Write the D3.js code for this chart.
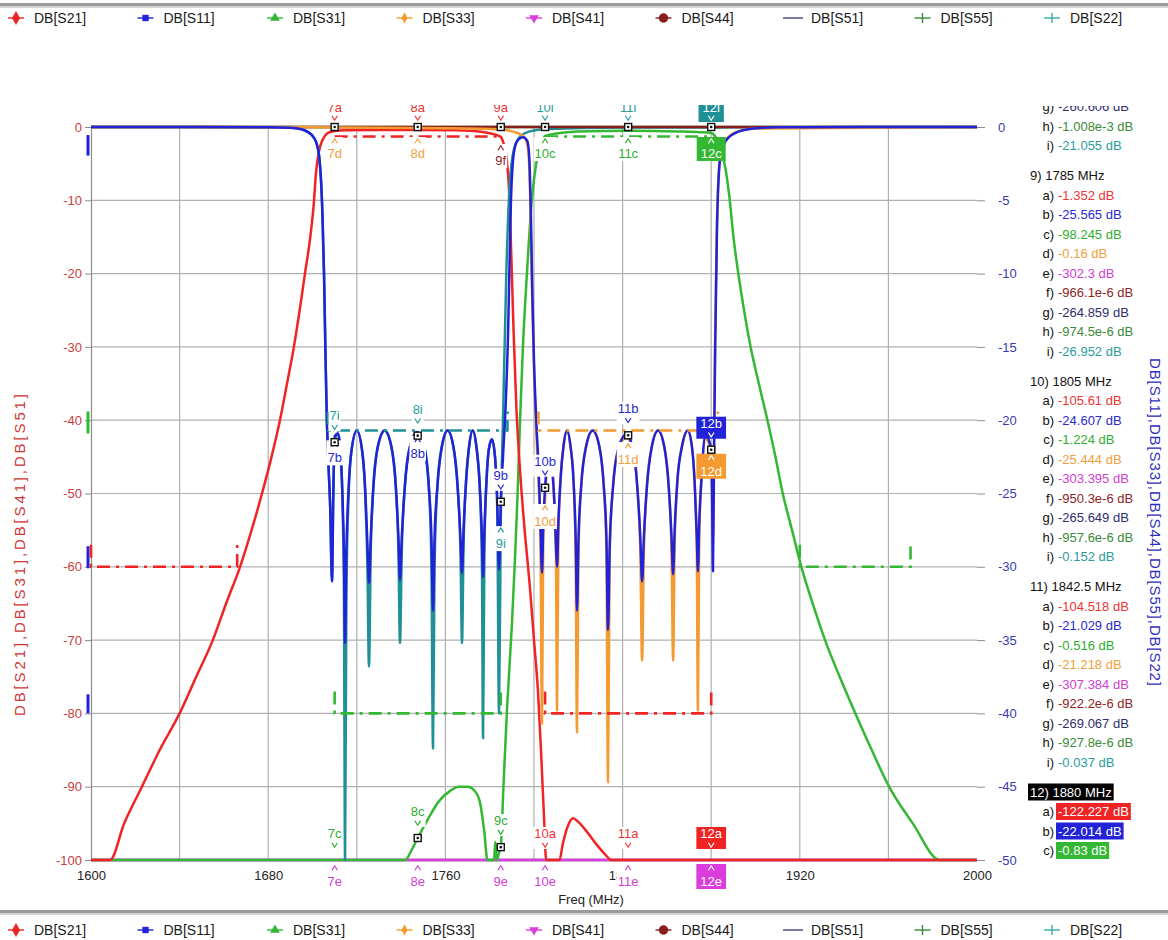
<!DOCTYPE html>
<html><head><meta charset="utf-8">
<script src="https://cdn.jsdelivr.net/npm/d3@7/dist/d3.min.js"></script>
<style>
html,body{margin:0;padding:0;background:#fff;}
svg{display:block;font-family:"Liberation Sans",Arial,sans-serif;}
</style></head><body>
<svg id="chart" width="1168" height="940"></svg>
<script>
// ---------------- DATA ----------------
const legendKeys  = ["S21","S11","S31","S33","S41","S44","S51","S55","S22"];
const legendNames = ["DB[S21]","DB[S11]","DB[S31]","DB[S33]","DB[S41]","DB[S44]","DB[S51]","DB[S55]","DB[S22]"];
const leftTicks  = [0,-10,-20,-30,-40,-50,-60,-70,-80,-90,-100];
const rightTicks = [0,-5,-10,-15,-20,-25,-30,-35,-40,-45,-50];
const xTicks     = [1600,1680,1760,1840,1920,2000];
const gridFreqs  = [1640,1680,1720,1760,1800,1840,1880,1920,1960];

// left axis traces (dB)
const S21 = [[1600,-105],[1608.6,-100],[1615,-95],[1623,-90],[1631,-85],[1640,-80],[1647.5,-75],[1655,-70],[1661,-65],[1667.3,-60],[1672.5,-55],[1677.2,-50],[1681.5,-45],[1685.3,-40],[1688.5,-35],[1691.6,-30],[1694.2,-25],[1696.6,-20],[1699,-15],[1700.7,-10],[1701.5,-6.5],[1703,-3.2],[1704.8,-1.6],[1707,-0.8],[1710,-0.55],[1715,-0.45],[1730,-0.4],[1747.5,-0.4],[1765,-0.45],[1775,-0.6],[1780,-0.85],[1785,-1.352],[1786,-2],[1787.5,-4],[1788.8,-9],[1789.8,-18],[1790.8,-28],[1792,-38],[1793.5,-46],[1795.5,-54],[1798.2,-63],[1800,-70],[1801.8,-77],[1803.3,-86],[1804.5,-94],[1805.5,-100],[1806.5,-104],[1810,-105],[1811.5,-100],[1813,-97.8],[1815,-95.6],[1817.6,-94.3],[1820,-94.8],[1824,-96.2],[1828,-97.8],[1832,-99.2],[1835,-100.5],[1842.5,-104.518],[1860,-115],[1880,-122.227],[1920,-130],[2000,-140]];
const S31 = [[1600,-140],[1700,-120],[1735,-105],[1741.8,-100],[1745,-98.5],[1747.5,-97],[1752,-94.5],[1757,-92],[1762,-90.6],[1766,-90],[1770,-90],[1773,-90.5],[1775.5,-92],[1777.5,-96],[1779,-100],[1780.5,-104],[1782,-100],[1782.5,-97.5],[1783.2,-101],[1784.2,-99],[1785,-98.245],[1786.2,-90],[1787.8,-79.5],[1790,-68],[1791.4,-59],[1792.6,-50],[1793.7,-40],[1795,-30],[1796.8,-20],[1799,-10],[1801,-5],[1803,-2.5],[1805,-1.224],[1810,-0.9],[1820,-0.6],[1842.5,-0.516],[1865,-0.6],[1875,-0.7],[1880,-0.83],[1882,-1.4],[1884,-2.8],[1886.4,-5.6],[1888,-9],[1890.2,-15.4],[1893.5,-22.5],[1897.8,-30],[1901.5,-35],[1905.4,-40],[1909,-45],[1912.3,-50],[1916.5,-55],[1920.7,-60],[1925.8,-65],[1931.4,-70],[1938,-75],[1945.1,-80],[1952.5,-85],[1960.3,-90],[1971,-95],[1983.3,-100],[2000,-105]];
const S41 = [[1600,-290],[1710,-297],[1747.5,-300],[1785,-302.3],[1805,-303.395],[1842.5,-307.384],[1880,-310],[2000,-315]];
const S51 = [[1600,-250],[1710,-258],[1747.5,-260.606],[1785,-264.859],[1805,-265.649],[1842.5,-269.067],[1880,-272],[2000,-280]];

// right axis traces (dB)
const S11 = [[1600,0],[1650,0],[1680,-0.02],[1690,-0.05],[1695,-0.15],[1698,-0.35],[1700.5,-0.7],[1702,-1.2],[1703,-2],[1703.8,-3.5],[1704.5,-6],[1705.2,-10],[1705.8,-15],[1706.4,-19.5],[1707.2,-23],[1708,-26],[1708.8,-31],[1709.4,-25],[1710,-21.1],[1711.5,-20.9],[1712.6,-22],[1713.6,-25.5],[1714.2,-29],[1714.7,-35.2],[1715.3,-29],[1716.2,-25],[1717.5,-22.2],[1720,-20.7],[1722.5,-22.2],[1723.9,-25],[1724.8,-28.5],[1725.5,-31.1],[1726.3,-28],[1727.5,-24.5],[1729.5,-21.8],[1732.6,-20.7],[1735.6,-21.8],[1737.6,-24.5],[1738.8,-28],[1739.5,-30.9],[1740.3,-28],[1741.7,-24.5],[1744,-21.8],[1747.2,-20.8],[1750.4,-21.8],[1752.5,-24.5],[1753.7,-28],[1754.4,-33],[1755.1,-28],[1756.4,-24.5],[1758.4,-21.8],[1761,-20.7],[1763.6,-21.8],[1765.5,-24.5],[1766.8,-28],[1767.5,-30.4],[1768.2,-27.5],[1769.4,-24],[1770.7,-21.8],[1772.3,-20.7],[1774,-21.8],[1775.5,-24.5],[1776.5,-28],[1777,-30.7],[1777.6,-27.5],[1778.6,-24],[1779.6,-22],[1781,-21.3],[1782.4,-22.5],[1783.4,-25.5],[1784.2,-30.2],[1785,-25.565],[1786,-22.5],[1787.2,-19],[1788.3,-14],[1789,-9],[1789.6,-5],[1790.4,-2.5],[1791.5,-1.3],[1793,-0.85],[1795,-0.7],[1796.8,-0.9],[1797.6,-1.5],[1798.1,-3],[1798.6,-6],[1799.2,-11],[1800,-16],[1801,-20],[1802,-23],[1802.9,-27],[1803.6,-30.4],[1804.2,-27],[1805,-24.607],[1806,-23],[1807.1,-22.6],[1808.3,-23.5],[1809.3,-26],[1809.9,-28.5],[1810.4,-30],[1811,-27],[1812,-24],[1813.3,-21.8],[1814.9,-20.7],[1816.5,-21.8],[1817.8,-24],[1818.8,-28],[1819.4,-33],[1820.1,-28],[1821.3,-24.5],[1823.5,-21.8],[1826.5,-20.7],[1829.5,-21.8],[1831.5,-24.5],[1832.7,-28],[1833.4,-34.3],[1834.2,-28.5],[1835.7,-24.5],[1838,-22],[1841.5,-21],[1844.5,-21.8],[1846.6,-24.5],[1848,-28],[1848.8,-31],[1849.6,-28],[1851,-24.5],[1853.2,-21.8],[1856,-20.7],[1858.8,-21.8],[1860.8,-24.5],[1862.1,-28],[1862.8,-30.5],[1863.5,-27.5],[1864.8,-24],[1866.8,-21.8],[1869.4,-20.7],[1871.3,-21.8],[1872.6,-24.5],[1873.5,-28],[1874,-30.3],[1874.6,-27],[1875.6,-24],[1877.4,-21],[1879,-21.4],[1880,-22.014],[1880.4,-25],[1880.8,-30.3],[1881.3,-22],[1881.8,-15],[1882.6,-7],[1884,-2.2],[1886,-1.1],[1888,-0.7],[1891,-0.4],[1895,-0.2],[1902,-0.07],[1910,-0.02],[1950,0],[2000,0]];
const S22 = [[1600,0],[1650,0],[1680,-0.02],[1690,-0.05],[1695,-0.15],[1698,-0.35],[1700.5,-0.7],[1702,-1.2],[1703,-2],[1703.8,-3.5],[1704.5,-6],[1705.2,-10],[1705.8,-15],[1706.4,-19.5],[1707.2,-23],[1708,-26],[1708.8,-31],[1709.4,-25],[1710,-21.5],[1711.5,-20.9],[1712.6,-22],[1713.6,-26],[1714.2,-32],[1714.7,-55],[1715.3,-32],[1716.2,-25.5],[1717.5,-22.2],[1720,-20.7],[1722.5,-22.2],[1723.9,-25.5],[1724.8,-30],[1725.5,-36.8],[1726.3,-29],[1727.5,-24.5],[1729.5,-21.8],[1732.6,-20.7],[1735.6,-21.8],[1737.6,-24.5],[1738.8,-29],[1739.5,-35.2],[1740.3,-29],[1741.7,-24.5],[1744,-21.8],[1747.2,-21.055],[1750.4,-21.8],[1752.5,-24.5],[1753.7,-30],[1754.4,-42.4],[1755.1,-30],[1756.4,-24.5],[1758.4,-21.8],[1761,-20.7],[1763.6,-21.8],[1765.5,-24.5],[1766.8,-29],[1767.5,-35.2],[1768.2,-28.5],[1769.4,-24],[1770.7,-21.8],[1772.3,-20.7],[1774,-21.8],[1775.5,-24.5],[1776.5,-30],[1777,-41.7],[1777.6,-29],[1778.6,-24],[1779.6,-22],[1781,-21.3],[1782.4,-22.5],[1783.4,-26],[1784.2,-40],[1785,-26.952],[1786,-20],[1787.5,-10],[1789,-4],[1791,-1.5],[1794,-0.6],[1798,-0.3],[1805,-0.152],[1842.5,-0.037],[1880,-0.03],[1900,-0.01],[2000,0]];
const S33 = [[1600,0],[1700,-0.02],[1760,-0.08],[1785,-0.16],[1790,-0.3],[1795,-0.6],[1797,-1.2],[1797.8,-2.5],[1798.3,-5],[1798.8,-9],[1799.4,-13],[1800.2,-17.5],[1801.1,-21],[1802,-24],[1802.9,-28],[1803.6,-40.7],[1804.2,-28],[1805,-25.444],[1806,-23.2],[1807.1,-22.8],[1808.3,-23.6],[1809.3,-26],[1809.9,-29],[1810.4,-39.8],[1811,-28],[1812,-24],[1813.3,-21.8],[1814.9,-20.7],[1816.5,-21.8],[1817.8,-24],[1818.8,-29],[1819.4,-41.3],[1820.1,-29],[1821.3,-24.5],[1823.5,-21.8],[1826.5,-20.7],[1829.5,-21.8],[1831.5,-24.5],[1832.7,-29],[1833.4,-44.7],[1834.2,-29],[1835.7,-24.5],[1838,-22],[1841.5,-21.218],[1844.5,-21.8],[1846.6,-24.5],[1848,-29],[1848.8,-36.4],[1849.6,-29],[1851,-24.5],[1853.2,-21.8],[1856,-20.7],[1858.8,-21.8],[1860.8,-24.5],[1862.1,-29],[1862.8,-36.4],[1863.5,-28.5],[1864.8,-24],[1866.8,-21.8],[1869.4,-20.7],[1871.3,-21.8],[1872.6,-24.5],[1873.5,-29],[1874,-39.8],[1874.6,-28],[1875.6,-24],[1877.4,-21.2],[1879,-21.6],[1880,-22.0],[1880.8,-28],[1881.3,-21],[1881.8,-14],[1882.6,-6.5],[1884,-2.1],[1887,-0.8],[1892,-0.3],[1900,-0.1],[2000,0]];
const S44 = [[1600,-0.0005],[1710,-0.0009],[1785,-0.000966],[1805,-0.00095],[1842.5,-0.000922],[2000,-0.0009]];
const S55 = [[1600,-0.0005],[1710,-0.001],[1785,-0.000975],[1805,-0.000958],[1842.5,-0.000928],[2000,-0.0009]];

// spec (limit) lines
const maskS21lo  = [[1600,-57],[1600,-60],[1666,-60],[1666,-57]];
const maskS21pb  = [[1710,-1.3],[1785,-1.3]];
const maskS21rx  = [[1805,-77],[1805,-80],[1880,-80],[1880,-77]];
const maskS31tx  = [[1710,-77],[1710,-80],[1785,-80],[1785,-77]];
const maskS31pb  = [[1805,-1.3],[1880,-1.3]];
const maskS31hi  = [[1920,-57],[1920,-60],[1970,-60],[1970,-57]];
const maskS22    = [[1707,-19.4],[1707,-20.7],[1788,-20.7],[1788,-19.4]];
const maskS33    = [[1802,-19.4],[1802,-20.7],[1883,-20.7],[1883,-19.4]];
const edgeBars   = [["S11",-1.1,-3.9],["S31",-38.8,-41.8],["S11",-57.2,-60.2],["S11",-77.4,-80]];

// markers
const markerFreqs = [1710,1747.5,1785,1805,1842.5,1880];
const markerNames = ["7","8","9","10","11","12"];
// [marker index, trace letter, side, reading used as anchor]
const markerLabels = [
 [0,"a","up",0],[0,"d","dn",0],[1,"a","up",0],[1,"d","dn",0],[2,"a","up",0],[2,"f","dn",0],
 [3,"i","up",0],[3,"c","dn",0],[4,"i","up",0],[4,"c","dn",0],[5,"i","up",0],[5,"c","dn",0],
 [0,"i","up",-21.5],[0,"b","dn",-21.1],[1,"i","up",-21.055],[1,"b","dn",-20.8],
 [2,"b","up",-25.565],[2,"i","dn",-26.952],[3,"b","up",-24.607],[3,"d","dn",-25.444],
 [4,"b","up",-21.029],[4,"d","dn",-21.218],[5,"b","up",-22.014],[5,"d","dn",-22.014],
 [0,"c","up",-110],[0,"e","dn",-297],[1,"c","up",-97],[1,"e","dn",-300],
 [2,"c","up",-98.245],[2,"e","dn",-302.3],[3,"a","up",-105.61],[3,"e","dn",-303.395],
 [4,"a","up",-104.518],[4,"e","dn",-307.384],[5,"a","up",-122.227],[5,"e","dn",-310]
];

// marker readout panel
const panelLetters = ["a","b","c","d","e","f","g","h","i"];
const panel8  = ["-260.606 dB","-1.008e-3 dB","-21.055 dB"];
const panel9  = ["-1.352 dB","-25.565 dB","-98.245 dB","-0.16 dB","-302.3 dB","-966.1e-6 dB","-264.859 dB","-974.5e-6 dB","-26.952 dB"];
const panel10 = ["-105.61 dB","-24.607 dB","-1.224 dB","-25.444 dB","-303.395 dB","-950.3e-6 dB","-265.649 dB","-957.6e-6 dB","-0.152 dB"];
const panel11 = ["-104.518 dB","-21.029 dB","-0.516 dB","-21.218 dB","-307.384 dB","-922.2e-6 dB","-269.067 dB","-927.8e-6 dB","-0.037 dB"];
const panel12 = ["-122.227 dB","-22.014 dB","-0.83 dB"];
const panelHeads = ["9) 1785 MHz","10) 1805 MHz","11) 1842.5 MHz","12) 1880 MHz"];

// ---------------- STYLE ----------------
const col = {S21:"#f02424",S11:"#2222d6",S31:"#34b834",S33:"#f59a30",S41:"#dc3cdc",S44:"#8a1c1c",S51:"#34346e",S55:"#3a8a3a",S22:"#1f9096"};
const txtCol = {a:"#ee3434",b:"#2a2ad0",c:"#2fae2f",d:"#f0a040",e:"#d040d0",f:"#8e2424",g:"#2e2e6e",h:"#3a8a3a",i:"#2a9c9c"};
const legCol = {S21:"#f02424",S11:"#2222d6",S31:"#34b834",S33:"#f59a30",S41:"#dc3cdc",S44:"#8a1c1c",S51:"#7a7aa6",S55:"#3a8a3a",S22:"#3aa6b0"};
const letterTrace = {a:"S21",b:"S11",c:"S31",d:"S33",e:"S41",f:"S44",g:"S51",h:"S55",i:"S22"};
const rightSet = new Set(["S11","S33","S44","S55","S22"]);
const FS = 13;

const svg = d3.select("#chart");
const X  = d3.scaleLinear().domain([1600,2000]).range([91,977]);
const YL = d3.scaleLinear().domain([-100,0]).range([860,127]).clamp(true);
const YR = d3.scaleLinear().domain([-50,0]).range([860,127]).clamp(true);
const ys = k => rightSet.has(k) ? YR : YL;

// separators
svg.append("rect").attr("x",0).attr("y",3).attr("width",1168).attr("height",3).attr("fill","#9a9a9a");
svg.append("rect").attr("x",0).attr("y",6).attr("width",1168).attr("height",2).attr("fill","#d4d4d4");
svg.append("rect").attr("x",0).attr("y",910).attr("width",1168).attr("height",3).attr("fill","#9a9a9a");
svg.append("rect").attr("x",0).attr("y",913).attr("width",1168).attr("height",2).attr("fill","#d4d4d4");

// grid
const grid = svg.append("g");
grid.selectAll("line.v").data(gridFreqs).join("line")
  .attr("x1",d=>X(d)).attr("x2",d=>X(d)).attr("y1",YL(0)).attr("y2",YL(-100))
  .attr("stroke","#b0b0b0").attr("stroke-width",1.2);
grid.selectAll("line.h").data(leftTicks.filter(d=>d>-100)).join("line")
  .attr("x1",X(1600)).attr("x2",X(2000)).attr("y1",d=>YL(d)).attr("y2",d=>YL(d))
  .attr("stroke","#b0b0b0").attr("stroke-width",1.2);

// axes
const axL = svg.append("g").attr("transform",`translate(${X(1600)},0)`)
  .call(d3.axisLeft(YL).tickValues(leftTicks).tickSize(6).tickSizeOuter(0).tickPadding(3).tickFormat(d=>String(d)));
axL.select(".domain").attr("stroke","#8c8c8c").attr("stroke-width",1.2);
axL.selectAll(".tick line").attr("stroke","#8c8c8c");
axL.selectAll("text").attr("fill","#c84040").attr("font-size",FS).attr("font-family",null);

const axR = svg.append("g").attr("transform",`translate(${X(2000)},0)`)
  .call(d3.axisRight(YR).tickValues(rightTicks).tickSize(8).tickPadding(13).tickFormat(d=>String(d)));
axR.select(".domain").remove();
axR.selectAll(".tick line").attr("stroke","#8c8c8c");
axR.selectAll("text").attr("fill","#3a3ab0").attr("font-size",FS).attr("font-family",null);

const axB = svg.append("g").attr("transform",`translate(0,${YL(-100)})`)
  .call(d3.axisBottom(X).tickValues(xTicks).tickSize(0).tickPadding(11).tickFormat(d=>String(d)));
axB.select(".domain").attr("stroke","#8c8c8c").attr("stroke-width",1.2);
axB.selectAll("text").attr("fill","#222").attr("font-size",FS).attr("font-family",null);

// titles
svg.append("text").attr("x",591).attr("y",904).attr("text-anchor","middle").attr("font-size",FS).attr("fill","#222").text("Freq (MHz)");
svg.append("text").attr("transform","translate(25,555) rotate(-90)").attr("text-anchor","middle")
  .attr("font-size",15).attr("fill","#d03434").attr("textLength",322).attr("lengthAdjust","spacing")
  .text("DB[S21],DB[S31],DB[S41],DB[S51]");
svg.append("text").attr("transform","translate(1150,522) rotate(90)").attr("text-anchor","middle")
  .attr("font-size",15).attr("fill","#2f2fc0").attr("textLength",328).attr("lengthAdjust","spacing")
  .text("DB[S11],DB[S33],DB[S44],DB[S55],DB[S22]");

// edge bars at left axis
svg.append("g").selectAll("line").data(edgeBars).join("line")
  .attr("x1",X(1600)-3).attr("x2",X(1600)-3).attr("y1",d=>YL(d[1])).attr("y2",d=>YL(d[2]))
  .attr("stroke",d=>col[d[0]]).attr("stroke-width",3);

// traces
const traceData = {S21,S11,S31,S33,S41,S44,S51,S55,S22};
const order = ["S51","S41","S31","S21","S55","S22","S44","S33","S11"];
const tg = svg.append("g");
order.forEach(k=>{
  const sc = ys(k);
  const line = d3.line().x(d=>X(d[0])).y(d=>sc(d[1])).curve(d3.curveMonotoneX);
  tg.append("path").datum(traceData[k]).attr("d",line).attr("fill","none")
    .attr("stroke",col[k]).attr("stroke-width",2.5).attr("stroke-linejoin","round");
});

// masks
const masks = [["S21",maskS21lo],["S21",maskS21pb],["S21",maskS21rx],["S31",maskS31tx],["S31",maskS31pb],["S31",maskS31hi],["S22",maskS22],["S33",maskS33]];
const mg = svg.append("g");
masks.forEach(([k,pts])=>{
  const sc = ys(k);
  const line = d3.line().x(d=>X(d[0])).y(d=>sc(d[1]));
  mg.append("path").datum(pts).attr("d",line).attr("fill","none").attr("stroke",col[k])
    .attr("stroke-width",2.6).attr("stroke-dasharray","13,6,3,6");
});

// marker labels
svg.append("clipPath").attr("id","topclip").append("rect").attr("x",0).attr("y",105).attr("width",1168).attr("height",835);
const lg = svg.append("g").attr("clip-path","url(#topclip)");
function chevron(g,x,cy,dir,color,w){
  const h=2.2, hw=2.8;
  const p = dir==="v" ? `M${x-hw},${cy-h}L${x},${cy+h}L${x+hw},${cy-h}` : `M${x-hw},${cy+h}L${x},${cy-h}L${x+hw},${cy+h}`;
  g.append("path").attr("d",p).attr("fill","none").attr("stroke",color).attr("stroke-width",w||1.2);
}
const pts = [];
markerLabels.forEach(([m,t,side,v])=>{
  const k = letterTrace[t];
  const x = X(markerFreqs[m]);
  const y = ys(k)(v);
  const top = y < 132;
  const sel = m===5;
  let tb, gc;
  if(side==="up"){ tb = top? y-15 : y-22; gc = top? y-9 : y-15; }
  else { gc = top? y+14 : y+8; tb = top? y+31 : y+26; }
  if(t==="f") { gc += 7; tb += 7; }
  const g = lg.append("g");
  const bg = g.append("rect");
  const txt = g.append("text").attr("x",x).attr("y",tb).attr("text-anchor","middle").attr("font-size",FS)
    .attr("fill", sel? "#fff" : txtCol[t]).text(markerNames[m]+t);
  const w = txt.node().getComputedTextLength();
  const y0 = side==="up" ? tb-11 : gc-4;
  const y1 = side==="up" ? gc+4 : tb+3;
  const pad = sel? 4 : 1;
  bg.attr("x",x-w/2-pad).attr("y",y0).attr("width",w+2*pad).attr("height",y1-y0)
    .attr("fill", sel? col[k] : "#fff");
  chevron(g,x,gc,side==="up"?"v":"^", sel? "#fff" : txtCol[t]);
  if(side==="up" && !(v<=-100 && !rightSet.has(k)) ) pts.push([x,y,sel]);
});
pts.forEach(([x,y,sel])=>{
  lg.append("rect").attr("x",x-3.5).attr("y",y-3.5).attr("width",7).attr("height",7)
    .attr("fill","#fff").attr("stroke","#111").attr("stroke-width",1.4);
  lg.append("circle").attr("cx",x).attr("cy",y).attr("r",1.3).attr("fill","#111");
});

// readout panel
svg.append("clipPath").attr("id","pclip").append("rect").attr("x",1000).attr("y",106).attr("width",168).attr("height",834);
const pg = svg.append("g").attr("clip-path","url(#pclip)").attr("font-size",FS);
const blocks = [[null,["g","h","i"],panel8,false],[panelHeads[0],panelLetters,panel9,false],[panelHeads[1],panelLetters,panel10,false],[panelHeads[2],panelLetters,panel11,false],[panelHeads[3],["a","b","c"],panel12,true]];
let yy = 111;
blocks.forEach(([head,letters,vals,sel],bi)=>{
  if(head){
    if(bi>0) yy += 10.5;
    const t = pg.append("text").attr("x",1030).attr("y",yy).attr("fill",sel?"#fff":"#111").text(head);
    if(sel){ const w=t.node().getComputedTextLength(); pg.insert("rect","text").attr("x",1028).attr("y",yy-13).attr("width",w+4).attr("height",17).attr("fill","#000"); }
    yy += 19.5;
  }
  letters.forEach((l,i)=>{
    pg.append("text").attr("x",1054).attr("y",yy).attr("text-anchor","end").attr("fill","#111").text(l+")");
    const t = pg.append("text").attr("x",1058).attr("y",yy).attr("fill",sel?"#fff":txtCol[l]).text(vals[i]);
    if(sel){ const w=t.node().getComputedTextLength(); pg.insert("rect","text").attr("x",1056).attr("y",yy-13).attr("width",w+4).attr("height",17).attr("fill",col[letterTrace[l]]); }
    yy += 19.5;
  });
});

// legends
function legend(yc){
  const g = svg.append("g");
  legendKeys.forEach((k,i)=>{
    const cx = 16 + i*129.5;
    const c = legCol[k];
    const ln = k==="S51" ? 10 : 8;
    g.append("line").attr("x1",cx-ln).attr("x2",cx+ln).attr("y1",yc).attr("y2",yc).attr("stroke",c).attr("stroke-width",k==="S51"?2:1.4);
    let sym = null, rot = 0;
    if(k==="S21") sym = d3.symbol(d3.symbolDiamond,55);
    if(k==="S11") sym = d3.symbol(d3.symbolSquare,40);
    if(k==="S31") sym = d3.symbol(d3.symbolTriangle,40);
    if(k==="S33") sym = d3.symbol(d3.symbolDiamond,35);
    if(k==="S41") { sym = d3.symbol(d3.symbolTriangle,40); rot = 180; }
    if(k==="S44") sym = d3.symbol(d3.symbolCircle,70);
    if(sym) g.append("path").attr("d",sym()).attr("fill",c).attr("transform",`translate(${cx},${yc}) rotate(${rot})`);
    if(k==="S55"||k==="S22") g.append("line").attr("x1",cx).attr("x2",cx).attr("y1",yc-5).attr("y2",yc+5).attr("stroke",c).attr("stroke-width",1.4);
    g.append("text").attr("x",cx+18).attr("y",yc+5).attr("font-size",14).attr("fill","#1a1a1a").text(legendNames[i]);
  });
}
legend(18);
legend(930);
</script></body></html>
